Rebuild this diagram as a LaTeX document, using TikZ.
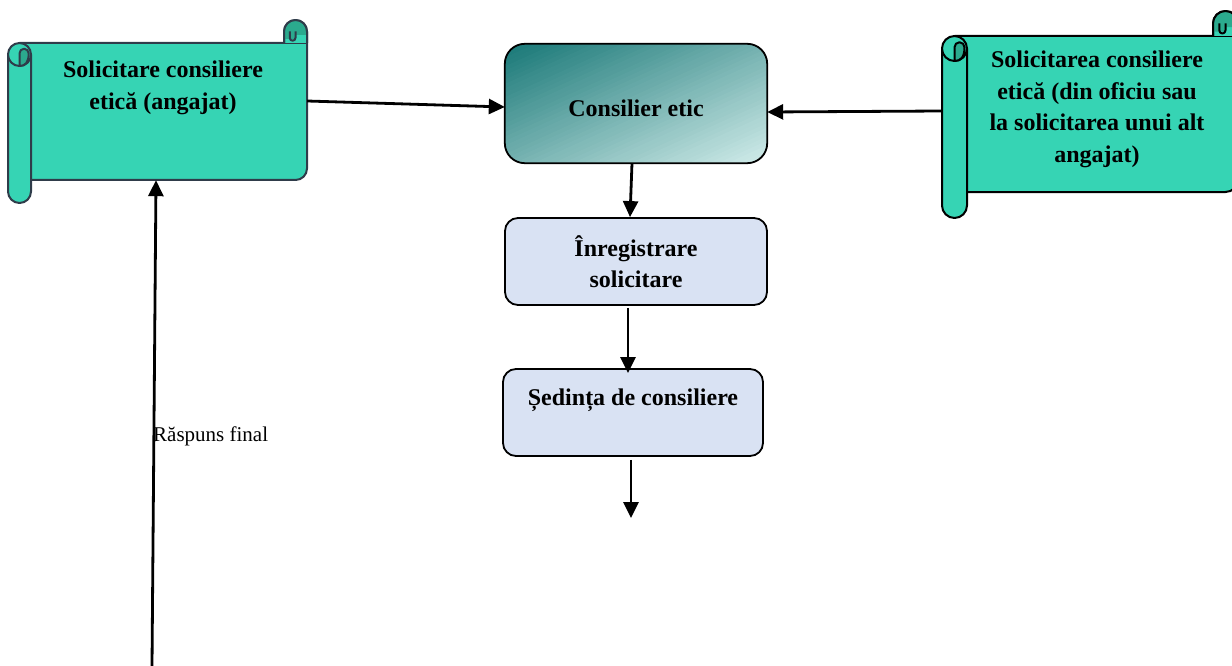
\documentclass[tikz,border=0pt]{standalone}
\usepackage{fontspec}
\setmainfont{Liberation Serif}
\usetikzlibrary{arrows.meta}
\definecolor{scrollfill}{HTML}{36D4B4}
\definecolor{scrolldark}{HTML}{2BAA8E}
\definecolor{scrollline}{HTML}{2F3C4A}
\definecolor{boxfill}{HTML}{D9E2F3}
\definecolor{gradA}{HTML}{197877}
\definecolor{gradB}{HTML}{D3EDEB}
% #1 L, #2 body top, #3 R, #4 body bottom, #5 roll bottom, #6 r, #7 line colour
\newcommand{\myscroll}[7]{%
 \begin{scope}[draw=#7, line width=2pt, line join=round]
  \filldraw[fill=scrollfill] ({#1+#6},{-#2}) -- ({#3},{-#2}) -- ({#3},{-(#4-#6)}) arc[start angle=0,end angle=-90,radius=#6] -- ({#1+#6},{-#4}) -- cycle;
  \filldraw[fill=scrollfill] ({#3-2*#6},{-#2}) -- ({#3-2*#6},{-(#2-#6)}) arc[start angle=180,end angle=0,radius=#6] -- ({#3},{-#2});
  \fill[scrolldark] ({#3-2*#6},{-(#2-#6)}) arc[start angle=180,end angle=0,radius=#6] -- ({#3},{-(#2-0.7*#6)}) -- ({#3-#6},{-(#2-0.7*#6)}) -- ({#3-#6},{-(#2-0.35*#6)}) -- ({#3-2*#6},{-(#2-0.35*#6)}) -- cycle;
  \draw ({#3-2*#6},{-#2}) -- ({#3-2*#6},{-(#2-#6)}) arc[start angle=180,end angle=0,radius=#6] -- ({#3},{-#2});
  \draw ({#3-1.5*#6},{-(#2-#6)}) -- ({#3-1.5*#6},{-(#2-0.45*#6)}) arc[start angle=180,end angle=360,radius=0.25*#6] -- ({#3-#6},{-(#2-#6)});
  \filldraw[fill=scrollfill] (#1,{-(#2+#6)}) -- (#1,{-(#5-#6)}) arc[start angle=180,end angle=360,radius=#6] -- ({#1+2*#6},{-(#2+#6)});
  \filldraw[fill=scrollfill] ({#1+#6},{-(#2+#6)}) circle[radius=#6];
  \filldraw[fill=scrolldark] ({#1+#6},{-(#2+2*#6)}) -- ({#1+#6},{-(#2+0.9*#6)}) arc[start angle=180,end angle=0,radius=0.4*#6] .. controls ({#1+1.8*#6},{-(#2+1.7*#6)}) and ({#1+1.5*#6},{-(#2+2*#6)}) .. ({#1+#6},{-(#2+2*#6)});
 \end{scope}}
\tikzset{
 anchorbox/.style={draw=none, inner sep=0pt},
 bigtext/.style={font=\fontsize{24}{31.6}\selectfont\bfseries, align=center, inner sep=0pt},
 flowbox/.style={draw=black, line width=1.8pt, rounded corners=13pt, fill=boxfill, inner sep=0pt, font=\fontsize{24}{31.6}\selectfont\bfseries, align=center},
 diaggrad/.style={path picture={
   \begin{scope}[shift={(path picture bounding box.center)}]
    \foreach \i in {0,...,54} {
      \pgfmathtruncatemacro\p{round(\i*100/54)}
      \pgfmathsetmacro\a{-108+\i*4}
      \pgfmathsetmacro\b{\a+4.6}
      \ifnum\i=0 \pgfmathsetmacro\a{-400}\fi
      \ifnum\i=54 \pgfmathsetmacro\b{400}\fi
      \fill[gradB!\p!gradA] ($(-65.6:\a)+(24.4:-400)$) -- ($(-65.6:\b)+(24.4:-400)$) -- ($(-65.6:\b)+(24.4:400)$) -- ($(-65.6:\a)+(24.4:400)$) -- cycle;
    }
   \end{scope}}},
 arr/.style={line width=2.8pt, -{Triangle[length=16pt,width=15pt]}}
}
\usetikzlibrary{calc}
\begin{document}
\begin{tikzpicture}[x=1pt,y=1pt]
\path[use as bounding box, clip] (0,0) rectangle (1232,-666);
% left scroll
\myscroll{8}{43}{307}{180}{203}{11.5}{scrollline}
\node[anchorbox, minimum width=299pt, minimum height=137pt] (scrollL) at (157.5,-111.5) {};
\node[bigtext] (scrollLtext) at (163,-88) {Solicitare consiliere\\etică (angajat)};
% right scroll
\myscroll{942}{36}{1238}{192}{218}{12.5}{black}
\node[anchorbox, minimum width=296pt, minimum height=156pt] (scrollR) at (1090,-114) {};
\node[bigtext] (scrollRtext) at (1097,-109.5) {Solicitarea consiliere\\etică (din oficiu sau\\la solicitarea unui alt\\angajat)};
% central column
\node[diaggrad, minimum width=262pt, minimum height=119pt, rounded corners=20pt, inner sep=0pt] (cons) at (636,-103.5) {};
\draw[black, line width=1.8pt, rounded corners=20pt] (cons.south west) rectangle (cons.north east);
\node[font=\fontsize{24}{31.6}\selectfont\bfseries, inner sep=0pt] (constext) at (636,-108) {Consilier etic};
\node[flowbox, minimum width=262pt, minimum height=87pt] (inreg) at (636,-261.5) {Înregistrare\\solicitare};
\node[flowbox, minimum width=260pt, minimum height=87pt] (sedinta) at (633,-412.5) {Ședința de consiliere\\~};
\coordinate (endS) at (631,-518);
\coordinate (startR) at (152,-666);
% connectors
\draw[arr] ([yshift=10.5pt]scrollL.east) -- ([yshift=-3.5pt]cons.west);
\draw[arr] ([yshift=3pt]scrollR.west) -- ([yshift=-8.5pt]cons.east);
\draw[arr] ([xshift=-4pt]cons.south) -- ([xshift=-6pt]inreg.north);
\draw[arr] ([xshift=-8pt,yshift=-2pt]inreg.south) -- ([xshift=-5pt,yshift=-5pt]sedinta.north);
\draw[arr] ([xshift=-2pt,yshift=-3pt]sedinta.south) -- (endS);
\draw[arr] (startR) -- ([xshift=-1.5pt]scrollL.south);
\node[anchor=west, inner sep=0pt, font=\fontsize{21}{24}\selectfont] (raspuns) at (153,-436) {Răspuns final};
\end{tikzpicture}
\end{document}
